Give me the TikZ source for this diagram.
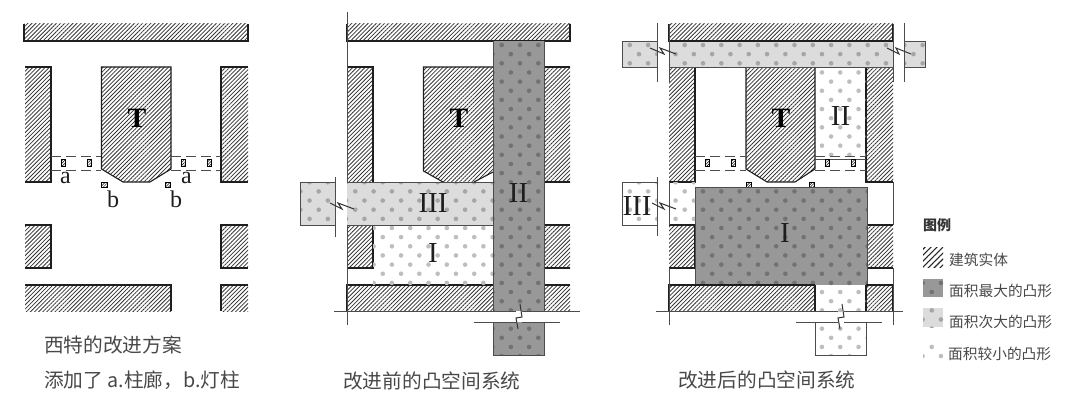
\documentclass[tikz,border=0pt]{standalone}
\usepackage{fontspec}
\setmainfont{Liberation Serif}
\newfontfamily\cjk{Noto Sans CJK SC}
\usetikzlibrary{patterns.meta}
\definecolor{darkfill}{HTML}{989898}
\definecolor{darkdot}{HTML}{727272}
\definecolor{lightfill}{HTML}{DCDCDC}
\definecolor{lightdot}{HTML}{A6A6A6}
\definecolor{whitedot}{HTML}{BEBEBE}
\definecolor{inkc}{HTML}{1E1E1E}
\definecolor{textc}{HTML}{484848}
\tikzset{
  hatched/.style={pattern={Lines[angle=45,distance=2.9pt,line width=0.8pt]},pattern color=black!80},
  wall/.style={draw=inkc,line width=1.1pt},
  gline/.style={draw=black!70,line width=0.9pt},
  zig/.style={draw=black!80,line width=1pt},
  colon/.style={draw=black!70,line width=0.9pt,dash pattern=on 10pt off 5pt},
  numeral/.style={font=\fontsize{29}{29}\selectfont,text=inkc,inner sep=0pt},
  tmark/.style={font=\fontsize{28}{28}\selectfont\bfseries,text=black,inner sep=0pt},
  letter/.style={font=\fontsize{24}{24}\selectfont,text=inkc,inner sep=0pt},
  caption/.style={font=\cjk\fontsize{19.7}{19.7}\selectfont,text=textc,inner sep=0pt,anchor=west},
  legtext/.style={font=\cjk\fontsize{14.7}{14.7}\selectfont,text=textc,inner sep=0pt,anchor=west},
}
\newcommand\ptdots[5]{%
  \begin{scope}
    \clip (#1,#2) rectangle (#3,#4);
    \pgfmathtruncatemacro\ja{floor((#2-45)/9.15)-1}
    \pgfmathtruncatemacro\jb{ceil((#4-45)/9.15)+1}
    \pgfmathtruncatemacro\ia{floor((#1-501.7)/18.3)-2}
    \pgfmathtruncatemacro\ib{ceil((#3-501.7)/18.3)+1}
    \foreach \j in {\ja,...,\jb}{
      \foreach \i in {\ia,...,\ib}{
        \pgfmathsetmacro\xx{501.7+18.3*\i+9.15*mod(\j+100,2)}
        \pgfmathsetmacro\yy{45+9.15*\j}
        \fill[#5] (\xx,\yy) circle[radius=2.3pt];
      }
    }
  \end{scope}}
\newcommand\hatchrect[4]{\fill[hatched] (#1,#2) rectangle (#3,#4);}
\newcommand\colpair[2]{%
  \draw[colon] (#1,156) -- (#2,156);
  \draw[colon] (#1,170) -- (#2,170);}
\newcommand\post[2]{\draw[draw=black,line width=0.7pt,pattern={Lines[angle=45,distance=2pt,line width=0.5pt]}] (#1-2,#2-3.5) rectangle (#1+2,#2+3.5);}
\newcommand\lamp[2]{\draw[draw=black,line width=0.7pt,pattern={Lines[angle=45,distance=2pt,line width=0.5pt]}] (#1-2.8,#2-2.5) rectangle (#1+2.8,#2+2.5);}
\begin{document}
\begin{tikzpicture}[x=1pt,y=-1pt]
\useasboundingbox (0,0) rectangle (1080,412);
%% ---------- Panel 1 ----------
\hatchrect{24}{24}{248}{41}
\draw[wall] (24,24) -- (24,41) -- (248,41) -- (248,24);
\hatchrect{25}{67}{51}{182}
\draw[wall] (25,67) -- (51,67) -- (51,182) -- (25,182);
\fill[hatched] (101.5,67) -- (171,67) -- (171,169) -- (150,182) -- (123,182) -- (101.5,169) -- cycle;
\draw[wall] (101.5,67) -- (171,67) -- (171,169) -- (150,182) -- (123,182) -- (101.5,169) -- cycle;
\hatchrect{221}{67}{248}{182}
\draw[wall] (248,67) -- (221,67) -- (221,182) -- (248,182);
\colpair{51}{101}
\colpair{171}{221}
\post{63}{163}\post{89}{163}\post{183}{163}\post{209}{163}
\lamp{104.5}{185}\lamp{168}{185}
\node[letter] (a1) at (65.5,178) {a};
\node[letter] (a2) at (186.5,178) {a};
\node[letter] (b1) at (113,199) {b};
\node[letter] (b2) at (176,199) {b};
\node[tmark] (t1) at (137,118) {T};
\hatchrect{25}{225}{51}{268}
\draw[wall] (25,225) -- (51,225) -- (51,268) -- (25,268);
\hatchrect{221}{225}{248}{268}
\draw[wall] (248,225) -- (221,225) -- (221,268) -- (248,268);
\hatchrect{25}{285}{171}{311}
\draw[wall] (25,285) -- (171,285) -- (171,311);
\hatchrect{221}{285}{248}{311}
\draw[wall] (248,285) -- (221,285) -- (221,311);
\node[caption] (c1) at (44,345) {西特的改进方案};
\node[caption] (c1b) at (44,380) {添加了 a.柱廊，b.灯柱};
%% ---------- Panel 2 ----------
\hatchrect{347}{24}{570}{41}
\draw[wall] (347,24) -- (347,41) -- (570,41) -- (570,24);
\hatchrect{347}{67}{373}{182}
\draw[wall] (347,67) -- (373,67) -- (373,182);
\fill[hatched] (423.5,67) -- (493,67) -- (493,172) -- (474,182) -- (443,182) -- (423.5,171) -- cycle;
\draw[wall] (493,67) -- (423.5,67) -- (423.5,171) -- (443,182);
\draw[wall] (474,182) -- (493,172);
\hatchrect{544}{67}{570}{182}
\draw[wall] (570,67) -- (544,67) -- (544,182) -- (570,182);
\node[tmark] (t2) at (459,118) {T};
\hatchrect{347}{225}{373}{268}
\draw[wall] (347,225) -- (373,225) -- (373,268) -- (347,268);
\hatchrect{544}{225}{570}{268}
\draw[wall] (570,225) -- (544,225) -- (544,268) -- (570,268);
\hatchrect{347}{285}{493}{311}
\draw[wall] (347,311) -- (347,285) -- (493,285);
\hatchrect{544}{285}{570}{311}
\draw[wall] (570,285) -- (544,285) -- (544,311);
\ptdots{373}{225}{493}{285}{whitedot}
% III
\fill[lightfill] (347,182) rectangle (493,225);
\ptdots{347}{182}{493}{225}{lightdot}
\fill[lightfill] (300,182) rectangle (335,225);
\ptdots{300}{182}{335}{225}{lightdot}
\draw[gline] (335,182) -- (300,182) -- (300,225) -- (335,225);
\draw[gline] (347,182) -- (493,182);
\draw[gline] (347,225) -- (493,225);
% II
\fill[darkfill] (493,41) rectangle (544,311);
\ptdots{493}{41}{544}{311}{darkdot}
\fill[darkfill] (493,322) rectangle (544,355);
\ptdots{493}{322}{544}{355}{darkdot}
\draw[gline] (493,41) -- (493,311);
\draw[gline] (544,41) -- (544,311);
\draw[gline] (493,322) -- (493,355) -- (544,355) -- (544,322);
\draw[gline] (347,12) -- (347,182);
\draw[gline] (347,225) -- (347,325);
\draw[gline] (335,177) -- (335,237);
\draw[zig] (330,203) -- (342,209) -- (338,203) -- (354,209);
\draw[gline] (334,311) -- (516,311) (522,311) -- (580,311);
\draw[gline] (474,322) -- (516,322) (522,322) -- (560,322);
\draw[zig] (520,304) -- (522,317) -- (516,318) -- (518,329);
\node[numeral] (n2a) at (433,203) {III};
\node[numeral] (n2b) at (518.5,193) {II};
\node[numeral] (n2c) at (433,253) {I};
\node[caption] (c2) at (343,381) {改进前的凸空间系统};
%% ---------- Panel 3 ----------
\hatchrect{669}{24}{893}{41}
\draw[wall] (669,24) -- (669,41) -- (893,41) -- (893,24);
\hatchrect{669}{67}{695}{182}
\draw[wall] (669,67) -- (695,67) -- (695,182) -- (669,182);
\fill[hatched] (746,67) -- (815,67) -- (815,169) -- (795,182) -- (767,182) -- (746,169) -- cycle;
\draw[wall] (746,67) -- (815,67) -- (815,169) -- (795,182) -- (767,182) -- (746,169) -- cycle;
\hatchrect{866}{67}{893}{182}
\draw[wall] (893,67) -- (866,67) -- (866,182) -- (893,182);
\node[tmark] (t3) at (781,118) {T};
\hatchrect{669}{225}{695}{268}
\draw[wall] (669,225) -- (695,225) -- (695,268) -- (669,268);
\hatchrect{866}{225}{893}{268}
\draw[wall] (893,225) -- (866,225) -- (866,268) -- (893,268);
\hatchrect{669}{285}{815}{311}
\draw[wall] (669,311) -- (669,285) -- (815,285) -- (815,311);
\hatchrect{866}{285}{893}{311}
\draw[wall] (893,311) -- (893,285) -- (866,285) -- (866,311);
% top band
\fill[lightfill] (669,41) rectangle (893,67);
\ptdots{669}{41}{893}{67}{lightdot}
\fill[lightfill] (622,41) rectangle (657,67);
\ptdots{622}{41}{657}{67}{lightdot}
\fill[lightfill] (904,41) rectangle (925,67);
\ptdots{904}{41}{925}{67}{lightdot}
\draw[gline] (657,41) -- (622,41) -- (622,67) -- (657,67);
\draw[gline] (904,41) -- (925,41) -- (925,67) -- (904,67);
\draw[gline] (669,67) -- (893,67);
\draw[wall] (669,41) -- (893,41);
% II
\ptdots{815}{67}{866}{156}{whitedot}
\colpair{695}{746}
\colpair{815}{866}
\draw[gline] (815,159.5) -- (866,159.5);
\post{707}{163}\post{733}{163}\post{827}{163}\post{853}{163}
\lamp{749}{185}\lamp{812}{185}
% I
\fill[darkfill] (695,187) rectangle (867,285);
\ptdots{695}{187}{867}{285}{darkdot}
\draw[gline] (695,187) -- (867,187) -- (867,285);
\draw[gline] (695,187) -- (695,285);
\draw[wall] (669,285) -- (815,285);
\draw[wall] (866,285) -- (893,285);
% small lower
\ptdots{815}{286}{866}{311}{whitedot}
\ptdots{815}{322}{866}{355}{whitedot}
\draw[gline] (815,322) -- (815,355) -- (866,355) -- (866,322);
% III
\ptdots{669}{182}{695}{225}{whitedot}
\ptdots{622}{182}{657}{225}{whitedot}
\draw[gline] (657,182) -- (622,182) -- (622,225) -- (657,225);
% verticals and breaks
\draw[gline] (657,23) -- (657,82);
\draw[gline] (669,24) -- (669,82);
\draw[gline] (893,24) -- (893,82);
\draw[gline] (904,23) -- (904,82);
\draw[gline] (669,182) -- (669,225);
\draw[gline] (669,268) -- (669,325);
\draw[gline] (893,268) -- (893,325);
\draw[gline] (657,177) -- (657,236);
\draw[gline] (893,182) -- (893,225);
\draw[zig] (652,203) -- (664,209) -- (660,203) -- (676,209);
\draw[zig] (650,48) -- (664,54) -- (660,48) -- (676,54);
\draw[zig] (887,48) -- (899,54) -- (896,48) -- (911,54);
\draw[gline] (656,311) -- (838,311) (844,311) -- (903,311);
\draw[gline] (796,322) -- (838,322) (844,322) -- (882,322);
\draw[zig] (842,304) -- (844,317) -- (838,318) -- (840,329);
\node[numeral] (n3a) at (840.5,116) {II};
\node[numeral] (n3b) at (637,206) {III};
\node[numeral] (n3c) at (785,233) {I};
\node[caption] (c3) at (678,380) {改进后的凸空间系统};
%% ---------- Legend ----------
\node[inner sep=0pt,anchor=west,font=\cjk\fontsize{14}{14}\selectfont\bfseries,text=black!80] (lg) at (923,225) {图例};
\fill[pattern={Lines[angle=45,distance=4.2pt,line width=1.1pt]},pattern color=black!85] (923,247) rectangle (943,267);
\fill[darkfill] (923,279) rectangle (943,297);
\ptdots{923}{279}{943}{297}{darkdot}
\fill[lightfill] (923,308) rectangle (943,327);
\ptdots{923}{308}{943}{327}{lightdot}
\ptdots{923}{340}{943}{358}{whitedot}
\node[legtext] (l1) at (949,260) {建筑实体};
\node[legtext] (l2) at (949,291) {面积最大的凸形};
\node[legtext] (l3) at (949,322) {面积次大的凸形};
\node[legtext] (l4) at (948,354) {面积较小的凸形};
\end{tikzpicture}
\end{document}
